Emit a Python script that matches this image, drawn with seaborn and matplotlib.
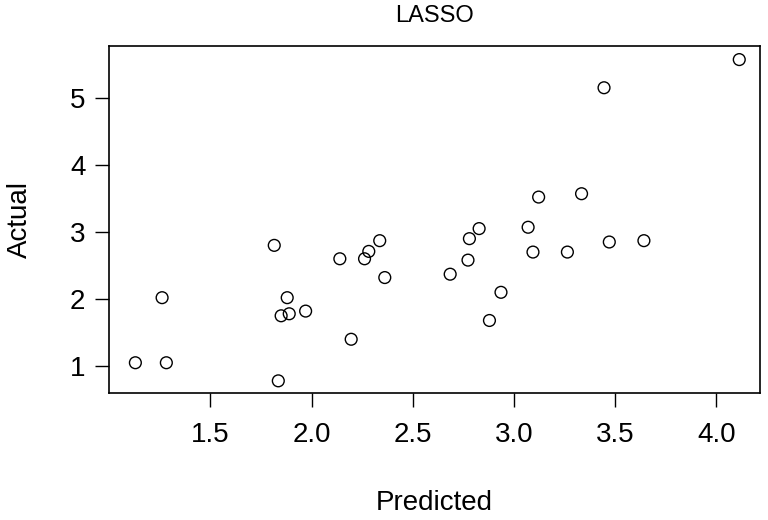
import pandas as pd
import matplotlib
matplotlib.use("Agg")
import matplotlib.pyplot as plt
import seaborn as sns

# Values
predicted = [1.130, 1.283, 1.262, 1.816, 1.836, 1.880, 1.850, 1.890, 1.971, 2.140,
             2.196, 2.262, 2.283, 2.337, 2.362, 4.113, 3.445, 3.122, 3.334, 2.828,
             2.780, 3.070, 2.773, 2.685, 3.094, 3.264, 3.471, 3.642, 2.936, 2.879]
actual = [1.05, 1.05, 2.02, 2.80, 0.78, 2.02, 1.75, 1.78, 1.82, 2.60,
          1.40, 2.60, 2.71, 2.87, 2.32, 5.57, 5.15, 3.52, 3.57, 3.05,
          2.90, 3.07, 2.58, 2.37, 2.70, 2.70, 2.85, 2.87, 2.10, 1.68]
x_ticks = [1.5, 2.0, 2.5, 3.0, 3.5, 4.0]
y_ticks = [1, 2, 3, 4, 5]

df = pd.DataFrame({"Predicted": predicted, "Actual": actual})

sns.set_style("ticks")
plt.rcParams["font.family"] = ["Liberation Sans", "DejaVu Sans"]
plt.rcParams["text.color"] = "black"
plt.rcParams["axes.labelcolor"] = "black"

fig = plt.figure(figsize=(7.68, 5.2), dpi=100)
ax = fig.add_axes([0.142, 0.244, 0.848, 0.668])

sns.scatterplot(data=df, x="Predicted", y="Actual", ax=ax, marker="o", s=72,
                facecolors="none", edgecolor="black", linewidth=1.0)

ax.set_xlim(1.0, 4.217)
ax.set_ylim(0.597, 5.776)
ax.set_xticks(x_ticks)
ax.set_xticklabels([f"{v:.1f}" for v in x_ticks])
ax.set_yticks(y_ticks)
ax.set_yticklabels([str(v) for v in y_ticks])

for side in ax.spines.values():
    side.set_visible(True)
    side.set_color("black")
    side.set_linewidth(1.2)

ax.tick_params(axis="both", direction="out", length=10, width=1.0, colors="black",
               labelcolor="black", labelsize=20)
ax.tick_params(axis="x", pad=11)
ax.tick_params(axis="y", pad=7)

ax.set_title("LASSO", fontsize=17, pad=17, color="black")
ax.set_xlabel("Predicted", fontsize=20, labelpad=30, color="black")
ax.set_ylabel("Actual", fontsize=20, labelpad=27, color="black")

fig.savefig("out.png", dpi=100)
